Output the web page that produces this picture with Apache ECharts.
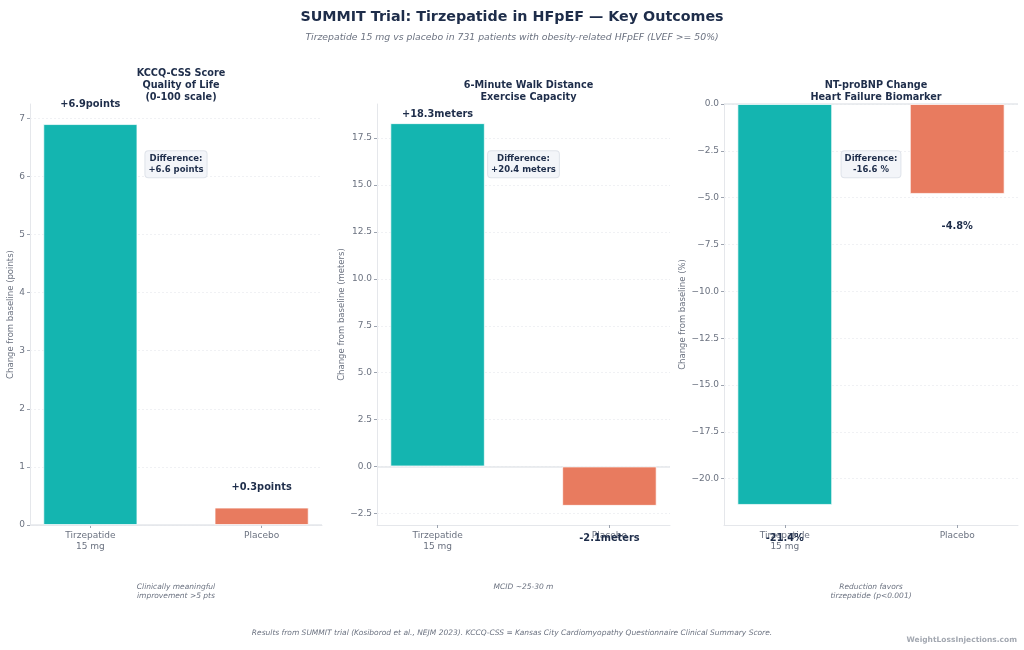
<!DOCTYPE html>
<html><head><meta charset="utf-8">
<script src="https://cdn.jsdelivr.net/npm/echarts@6/dist/echarts.min.js"></script>
<style>html,body{margin:0;padding:0;background:#fff}#c{width:1024px;height:650px}</style>
</head><body><div id="c"></div>
<script>
// ---- data ----
const categories = ['Tirzepatide\n15 mg', 'Placebo'];
const kccqValues = [6.9, 0.3];
const walkValues = [18.3, -2.1];
const ntprobnpValues = [-21.4, -4.8];
const panelTitles = ['KCCQ-CSS Score\nQuality of Life\n(0-100 scale)', '6-Minute Walk Distance\nExercise Capacity', 'NT-proBNP Change\nHeart Failure Biomarker'];
const units = ['points', 'meters', '%'];
const yNames = ['Change from baseline (points)', 'Change from baseline (meters)', 'Change from baseline (%)'];
const diffLabels = ['Difference:\n+6.6 points', 'Difference:\n+20.4 meters', 'Difference:\n-16.6 %'];
const notes = ['Clinically meaningful\nimprovement >5 pts', 'MCID ~25-30 m', 'Reduction favors\ntirzepatide (p<0.001)'];
const kccqTicks = [0, 1, 2, 3, 4, 5, 6, 7];
const walkTicks = [-2.5, 0, 2.5, 5, 7.5, 10, 12.5, 15, 17.5];
const ntTicks = [-20, -17.5, -15, -12.5, -10, -7.5, -5, -2.5, 0];
const tickDecimals = [0, 1, 1];
const mainTitle = 'SUMMIT Trial: Tirzepatide in HFpEF \u2014 Key Outcomes';
const subTitle = 'Tirzepatide 15 mg vs placebo in 731 patients with obesity-related HFpEF (LVEF >= 50%)';
const footnote = 'Results from SUMMIT trial (Kosiborod et al., NEJM 2023). KCCQ-CSS = Kansas City Cardiomyopathy Questionnaire Clinical Summary Score.';
const watermark = 'WeightLossInjections.com';

const panelValues = [kccqValues, walkValues, ntprobnpValues];
const panelTicks = [kccqTicks, walkTicks, ntTicks];

// ---- styling ----
const FONT = 'DejaVu Sans';
const NAVY = '#1e2d4a';
const GRAY = '#6b7280';
const LIGHT = '#e5e7eb';
const barColors = ['#14b5b0', '#e87b5f'];
const grids = [
  {left: 30, right: 702, top: 104, bottom: 125},
  {left: 377, right: 354, top: 104, bottom: 125},
  {left: 724, right: 6, top: 104, bottom: 125}
];
const BAR_W = 0.55;
const XMIN = -BAR_W / 2 - 0.05 * (1 + BAR_W);
const XMAX = 1 + BAR_W / 2 + 0.05 * (1 + BAR_W);

function yLimits(vals) {
  const dmin = Math.min(0, ...vals), dmax = Math.max(0, ...vals);
  const r = dmax - dmin;
  return [Math.min(...vals) < 0 ? dmin - 0.05 * r : 0, Math.max(...vals) > 0 ? dmax + 0.05 * r : 0];
}
function fmt(v, d) {
  const s = Math.abs(v).toFixed(d);
  return (v < -1e-9 ? '\u2212' : '') + s;
}

const chart = echarts.init(document.getElementById('c'), null, {renderer: 'canvas'});
const xAxes = [], yAxes = [], series = [], titles = [];

titles.push({text: mainTitle, left: 'center', top: 5, textStyle: {fontFamily: FONT, fontSize: 14.3, fontWeight: 'bold', color: NAVY}});
titles.push({text: subTitle, left: 'center', top: 28, textStyle: {fontFamily: FONT, fontSize: 9.3, fontStyle: 'italic', fontWeight: 'normal', color: GRAY}});

panelValues.forEach((vals, i) => {
  const [lo, hi] = yLimits(vals);
  const g = grids[i];
  const gw = 1024 - g.left - g.right;
  const barPx = gw / (XMAX - XMIN) * BAR_W;
  const cx = g.left + gw / 2;
  const nLines = panelTitles[i].split('\n').length;
  titles.push({text: panelTitles[i], left: cx, top: 98 - nLines * 12, textAlign: 'center',
    textStyle: {fontFamily: FONT, fontSize: 9.7, fontWeight: 'bold', color: NAVY, lineHeight: 12}});
  xAxes.push({type: 'value', gridIndex: i, min: XMIN, max: XMAX,
    axisLine: {show: true, onZero: false, lineStyle: {color: LIGHT, width: 1}},
    axisTick: {show: true, customValues: [0, 1], length: 3, lineStyle: {color: '#9ca3af'}},
    axisLabel: {customValues: [0, 1], formatter: v => categories[Math.round(v)], color: GRAY, fontFamily: FONT, fontSize: 9, lineHeight: 11, margin: 5},
    splitLine: {show: false}});
  yAxes.push({type: 'value', gridIndex: i, min: lo, max: hi,
    name: yNames[i], nameLocation: 'middle', nameGap: [15, 31, 35][i],
    nameTextStyle: {fontFamily: FONT, fontSize: 8.5, color: GRAY},
    axisLine: {show: true, onZero: false, lineStyle: {color: LIGHT, width: 1}},
    axisTick: {show: true, customValues: panelTicks[i], length: 3, lineStyle: {color: '#9ca3af'}},
    axisLabel: {customValues: panelTicks[i], formatter: v => fmt(v, tickDecimals[i]), color: GRAY, fontFamily: FONT, fontSize: 9, margin: 5},
    splitLine: {show: false}});
  // gridlines and zero line, drawn under the bars
  series.push({type: 'line', xAxisIndex: i, yAxisIndex: i, data: [], z: 1, silent: true,
    markLine: {z: 1, silent: true, symbol: 'none', label: {show: false}, animation: false,
      data: panelTicks[i].map(t => [{coord: [XMIN, t], lineStyle: {color: '#eceef2', type: [2, 2], width: 0.8}}, {coord: [XMAX, t]}])
        .concat([[{coord: [XMIN, 0], lineStyle: {color: LIGHT, type: 'solid', width: 1.5}}, {coord: [XMAX, 0]}]])}
  });
  const posDist = [15, 4, 4][i];
  series.push({type: 'bar', xAxisIndex: i, yAxisIndex: i, barWidth: barPx, z: 3,
    data: vals.map((v, k) => ({value: [k, v],
      itemStyle: {color: barColors[k], borderColor: 'rgba(255,255,255,0.7)', borderWidth: 1},
      label: {show: true, position: v >= 0 ? 'top' : 'bottom', distance: v >= 0 ? posDist : 28,
        formatter: (v > 0 ? '+' : '') + v.toFixed(1) + units[i],
        fontFamily: FONT, fontSize: 9.8, fontWeight: 'bold', color: NAVY}}))
  });
});

chart.setOption({
  animation: false,
  backgroundColor: '#ffffff',
  title: titles,
  grid: grids.map(g => Object.assign({containLabel: false}, g)),
  xAxis: xAxes, yAxis: yAxes, series: series
});

// annotations positioned through the axes' scales
const graphics = [];
panelValues.forEach((vals, i) => {
  const [lo, hi] = yLimits(vals);
  const p = chart.convertToPixel({gridIndex: i}, [0.5, lo + 0.857 * (hi - lo)]);
  graphics.push({type: 'text', x: p[0], y: p[1], z: 10, style: {text: diffLabels[i], align: 'center', verticalAlign: 'middle',
    font: 'bold 8.5px "DejaVu Sans"', fill: NAVY, lineHeight: 11, backgroundColor: '#f3f5f9', borderColor: '#dfe3ea', borderWidth: 1, borderRadius: 3, padding: [2, 3]}});
  const g = grids[i];
  const cx = g.left + (1024 - g.left - g.right) / 2;
  graphics.push({type: 'text', x: cx, y: 583, style: {text: notes[i], align: 'center', verticalAlign: 'top',
    font: 'italic 7.5px "DejaVu Sans"', fill: GRAY, lineHeight: 9}});
});
graphics.push({type: 'text', x: 512, y: 633, style: {text: footnote, align: 'center', verticalAlign: 'middle', font: 'italic 7.5px "DejaVu Sans"', fill: GRAY}});
graphics.push({type: 'text', x: 1017, y: 640, style: {text: watermark, align: 'right', verticalAlign: 'middle', font: 'bold 7.5px "DejaVu Sans"', fill: '#a3a8b1'}});
chart.setOption({graphic: graphics});
</script>
</body></html>
